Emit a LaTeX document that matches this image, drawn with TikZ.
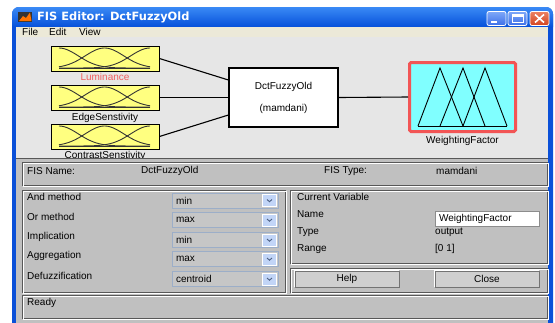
\documentclass[tikz,border=0pt]{standalone}
\usepackage{fontspec}
\setmainfont{Liberation Sans}
\newfontfamily\titlefont{DejaVu Sans}
\usetikzlibrary{positioning}

\definecolor{xpedge}{HTML}{0A50D8}
\definecolor{xptop}{HTML}{3A8AF5}
\definecolor{xpbottom}{HTML}{0650DA}
\definecolor{menubg}{HTML}{ECE9D8}
\definecolor{figbg}{HTML}{E6E6E6}
\definecolor{panelbg}{HTML}{C0C0C0}
\definecolor{mfyellow}{HTML}{FFFF80}
\definecolor{mfcyan}{HTML}{80FFFF}
\definecolor{selred}{HTML}{F25555}
\definecolor{lumred}{HTML}{F06060}
\definecolor{etchdark}{HTML}{585858}
\definecolor{combobg}{HTML}{C6C6C6}
\definecolor{comboedge}{HTML}{9CAEC8}
\definecolor{dropbg}{HTML}{C2D5F7}
\definecolor{chevron}{HTML}{4D6185}
\definecolor{btnface}{HTML}{CFCFCF}
\definecolor{wbtntop}{HTML}{7FA8F8}
\definecolor{wbtnbot}{HTML}{3C6FE8}
\definecolor{closetop}{HTML}{EC8262}
\definecolor{closebot}{HTML}{D24420}

\tikzset{
  txt/.style={anchor=west, inner sep=0},
  wire/.style={black, line width=1.1},
  mfline/.style={black!80, line width=0.9},
  inbox/.style={draw=black, line width=0.9, fill=mfyellow, minimum width=108, minimum height=25, inner sep=0},
  fisbox/.style={draw=black, line width=1.2, fill=white, minimum width=109, minimum height=59, align=center},
  outbox/.style={draw=selred, line width=3, fill=mfcyan, minimum width=106, minimum height=69, rounded corners=1.5, inner sep=0},
  varname/.style={inner sep=0},
  etched/.style={draw=etchdark, line width=0.8, postaction={draw=white, line width=0.5, transform canvas={xshift=0.9pt, yshift=-0.9pt}}},
  combo/.style={draw=comboedge, line width=0.9, fill=combobg, minimum height=15, text width=98, inner xsep=4, inner ysep=0, align=left},
  dropbtn/.style={fill=dropbg, draw=white, line width=0.5, minimum width=14, minimum height=12, inner sep=0,
    path picture={\draw[chevron, line width=0.9] ([xshift=-2.5pt, yshift=1pt]path picture bounding box.center) -- ([yshift=-1.2pt]path picture bounding box.center) -- ([xshift=2.5pt, yshift=1pt]path picture bounding box.center);}},
  editbox/.style={draw=black!45, fill=white, line width=0.8, minimum height=15, text width=96, inner xsep=4, inner ysep=0, align=left},
  pushbtn/.style={draw=black!55, fill=btnface, line width=0.8, minimum width=104, minimum height=16, inner sep=0},
  winbtn/.style={draw=white, line width=0.8, rounded corners=2, minimum width=19, minimum height=14, top color=wbtntop, bottom color=wbtnbot},
}

\begin{document}
\begin{tikzpicture}[x=1pt, y=-1pt, font=\fontsize{10}{12}\selectfont]
    \useasboundingbox (0,0) rectangle (555,322);
    \fill[white] (0,0) rectangle (555,322);

    % window frame and title bar
    \fill[xpedge, rounded corners=7] (12,7) rectangle (553,340);
    \shade[top color=xptop, bottom color=xpbottom] (12,27) [rounded corners=7] -- (12,7) -- (553,7) [sharp corners] -- (553,27) -- cycle;
    \fill[black!80] (18,12) rectangle (32,22);
    \fill[orange!90!red] (19,21) -- (23,16) -- (26,18) -- (30,12.5) -- (31.5,21) -- cycle;
    \node[txt, text=white, font={\titlefont\bfseries\fontsize{11.4}{13}\selectfont}] (title) at (37,17) {FIS Editor: DctFuzzyOld};

    \node[winbtn] (minbtn) at (496.5,18.5) {};
    \node[winbtn] (maxbtn) at (517.5,18.5) {};
    \node[winbtn, top color=closetop, bottom color=closebot] (closewin) at (539.5,18.5) {};
    \fill[white] (491,21) rectangle (497,23);
    \draw[white, line width=0.9] (512,14.5) rectangle (523,22.5);
    \fill[white] (512,14.5) rectangle (523,16.5);
    \draw[white, line width=1.6] (535,14.5) -- (544,22.5) (544,14.5) -- (535,22.5);

    % menu bar
    \fill[menubg] (16,27) rectangle (548,37);
    \node[txt] (filemenu) at (22,32) {File};
    \node[txt] (editmenu) at (49,32) {Edit};
    \node[txt] (viewmenu) at (79,32) {View};

    % system diagram
    \fill[figbg] (16,37) rectangle (548,158);
    \node[inbox] (lum) at (105,58.5) {};
    \node[inbox] (edgesens) at (105,97.5) {};
    \node[inbox] (contrast) at (105,136.5) {};
    \node[fisbox] (fis) at (283.5,97.5) {DctFuzzyOld\\[10pt](mamdani)};
    \node[outbox] (weight) at (462.5,97) {};

    \draw[wire] (lum.east) -- ([yshift=17.5pt]fis.west);
    \draw[wire] (edgesens.east) -- (fis.west);
    \draw[wire] (contrast.east) -- ([yshift=-17.5pt]fis.west);
    \draw[wire] (fis.east) -- (weight.west);

    \draw[mfline] (59,68) -- (150,68);
    \draw[mfline, domain=59:150, smooth, samples=40, variable=\x] plot({\x},{68-20*exp(-((\x-59)*(\x-59))/745)});
    \draw[mfline, domain=59:150, smooth, samples=40, variable=\x] plot({\x},{68-20*exp(-((\x-104.5)*(\x-104.5))/745)});
    \draw[mfline, domain=59:150, smooth, samples=40, variable=\x] plot({\x},{68-20*exp(-((\x-150)*(\x-150))/745)});
    \draw[mfline] (59,107) -- (150,107);
    \draw[mfline, domain=59:150, smooth, samples=40, variable=\x] plot({\x},{107-20*exp(-((\x-59)*(\x-59))/745)});
    \draw[mfline, domain=59:150, smooth, samples=40, variable=\x] plot({\x},{107-20*exp(-((\x-104.5)*(\x-104.5))/745)});
    \draw[mfline, domain=59:150, smooth, samples=40, variable=\x] plot({\x},{107-20*exp(-((\x-150)*(\x-150))/745)});
    \draw[mfline] (59,146) -- (150,146);
    \draw[mfline, domain=59:150, smooth, samples=40, variable=\x] plot({\x},{146-20*exp(-((\x-59)*(\x-59))/745)});
    \draw[mfline, domain=59:150, smooth, samples=40, variable=\x] plot({\x},{146-20*exp(-((\x-104.5)*(\x-104.5))/745)});
    \draw[mfline, domain=59:150, smooth, samples=40, variable=\x] plot({\x},{146-20*exp(-((\x-150)*(\x-150))/745)});

    \draw[black, line width=0.9] (418,126) -- (507,126);
    \draw[black, line width=0.9] (418,126) -- (440,68) -- (463,126);
    \draw[black, line width=0.9] (440,126) -- (463,68) -- (485,126);
    \draw[black, line width=0.9] (463,126) -- (485,68) -- (507,126);

    \node[varname, below=2pt of lum, text=lumred] (lumlabel) {Luminance};
    \node[varname, below=3pt of edgesens] (edgelabel) {EdgeSenstivity};
    \node[varname, below=2pt of contrast] (contrastlabel) {ContrastSenstivity};
    \node[varname, below=3pt of weight] (weightlabel) {WeightingFactor};

    % control panel
    \fill[panelbg] (16,158) rectangle (548,340);
    \draw[etchdark, line width=0.8] (16,158.4) -- (548,158.4);

    \draw[etched] (22,162) rectangle (547,185);
    \node[txt] (fisnamelbl) at (27,171) {FIS Name:};
    \node[txt] (fisnameval) at (141,171) {DctFuzzyOld};
    \node[txt] (fistypelbl) at (324,171) {FIS Type:};
    \node[txt] (fistypeval) at (436,171) {mamdani};

    \draw[etched] (22,190) rectangle (285,292);
    \node[txt] (andlbl) at (27,197) {And method};
    \node[combo] (andcombo) at (225,200.5) {min};
    \node[dropbtn] (anddrop) at (269.5,200.5) {};
    \node[txt] (orlbl) at (27,217) {Or method};
    \node[combo] (orcombo) at (225,220) {max};
    \node[dropbtn] (ordrop) at (269.5,220) {};
    \node[txt] (implbl) at (27,237) {Implication};
    \node[combo] (impcombo) at (225,240) {min};
    \node[dropbtn] (impdrop) at (269.5,240) {};
    \node[txt] (agglbl) at (27,256) {Aggregation};
    \node[combo] (aggcombo) at (225,259) {max};
    \node[dropbtn] (aggdrop) at (269.5,259) {};
    \node[txt] (defuzzlbl) at (27,276) {Defuzzification};
    \node[combo] (defuzzcombo) at (225,279) {centroid};
    \node[dropbtn] (defuzzdrop) at (269.5,279) {};

    \draw[etched] (290,190) rectangle (547,263);
    \node[txt] (curvarlbl) at (297,197) {Current Variable};
    \node[txt] (namelbl) at (297,214) {Name};
    \node[editbox] (nameedit) at (487,218.5) {WeightingFactor};
    \node[txt] (typelbl) at (297,232) {Type};
    \node[txt] (typeval) at (435,232) {output};
    \node[txt] (rangelbl) at (297,249) {Range};
    \node[txt] (rangeval) at (435,249) {[0 1]};

    \draw[etched] (290,268) rectangle (547,292);
    \node[pushbtn] (helpbtn) at (347,279) {Help};
    \draw[white, line width=0.8] (helpbtn.south west) |- (helpbtn.north east);
    \node[pushbtn] (closebtn) at (487,279) {Close};
    \draw[white, line width=0.8] (closebtn.south west) |- (closebtn.north east);

    \draw[etched] (22,295) rectangle (547,318);
    \node[txt] (readylbl) at (27,303) {Ready};
\end{tikzpicture}
\end{document}
